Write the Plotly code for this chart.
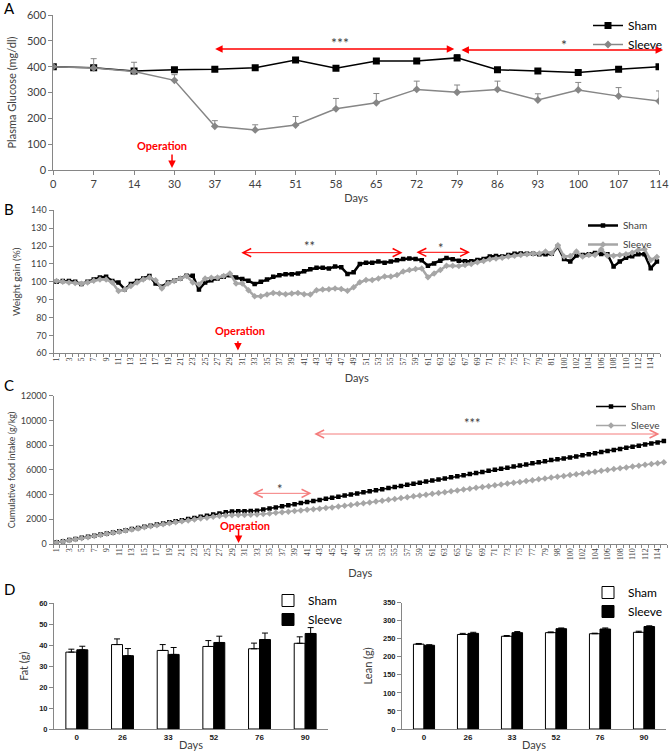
import plotly.graph_objects as go

# ---------------- data ----------------
days_A = ['0', '7', '14', '30', '37', '44', '51', '58', '65', '72', '79', '86', '93', '100', '107', '114']
glucose_sham = [400, 396, 383, 388, 390, 396, 426, 394, 422, 422, 434, 388, 383, 377, 390, 400]
glucose_sham_err = [5, 6, 5, 8, 7, 5, 9, 6, 8, 6, 12, 5, 7, 8, 6, 7]
glucose_sleeve = [400, 395, 381, 347, 169, 155, 174, 237, 260, 312, 301, 312, 271, 310, 286, 267]
glucose_sleeve_err = [3, 36, 36, 22, 22, 20, 33, 40, 36, 32, 28, 32, 24, 29, 33, 39]

days_B = [str(d) for d in range(1, 82)] + ['99'] + [str(d) for d in range(100, 116)]
weight_sham = [100, 100.4, 100.4, 100, 98.7, 100, 101.3, 102.4, 102.8, 100.4,
               99.6, 95.9, 98.7, 100.4, 101.9, 103.2, 99.1, 97.2, 99.6, 100.6,
               101.9, 103.4, 103.4, 95.7, 99.6, 100.9, 101.9, 102.8, 103.7, 102.4,
               101.5, 100.6, 98.7, 100, 101.3, 102.8, 103.7, 104.2, 104.2, 104.6,
               105.9, 107, 107.9, 107.9, 107.4, 108.5, 108.1, 104.4, 105.3, 110,
               110.7, 110.7, 111.3, 110.7, 111.3, 112, 112.8, 113.1, 112.8, 112,
               109, 110.3, 111.8, 113.3, 112.6, 111.8, 111.5, 111.5, 112.2, 112.8,
               114.1, 114.4, 114.1, 115, 115.7, 115.9, 115.7, 115.7, 115.4, 115.4, 115.7,
               119.7, 112.8, 111.3, 114.7, 115, 115.4, 116.1, 115.6, 115.4, 108.5,
               111.3, 113.5, 114.3, 115.4, 115.4, 107.6, 111.3]
weight_sleeve = [100.4, 100, 99.6, 99.3, 98.9, 99.6, 100.6, 101.3, 101.3, 99.6,
                 94.8, 95.7, 97.6, 99.6, 101.3, 102.4, 100.9, 96.3, 99.1, 100.4,
                 101.9, 103.2, 99.6, 98.5, 101.9, 102.2, 102.4, 103.2, 104.7, 99.1,
                 99.1, 95.3, 91.9, 91.9, 92.9, 93.8, 93.4, 93.1, 93.4, 93.8,
                 93.1, 92.9, 95.3, 95.7, 95.8, 96.3, 96, 95, 96.9, 99.7,
                 101, 101, 101.9, 102.9, 102.9, 103.8, 105.7, 106.6, 107.2, 107.5,
                 102.5, 104.7, 106.6, 109, 109, 108.8, 109.4, 110, 110.9, 111.6,
                 112.6, 113.1, 113.5, 114.1, 114.6, 115, 115.4, 115.7, 115.9, 116.9, 115.9,
                 120.5, 114.1, 114.4, 116.9, 114.1, 115, 115, 118.2, 114.6, 114.6,
                 115, 115.4, 116.3, 117.8, 118.2, 112.2, 113.9]

days_C = [str(d) for d in range(1, 81)] + ['98', '99'] + [str(d) for d in range(100, 116)]
food_sham = [135, 228, 320, 412, 500, 585, 672, 760, 850, 940, 1030, 1120, 1212, 1300,
             1390, 1480, 1570, 1660, 1750, 1840, 1930, 2020, 2108, 2195, 2285, 2380, 2470, 2560,
             2630, 2645, 2655, 2668, 2700,
             2787, 2874, 2960, 3048, 3135, 3222, 3310, 3396, 3483, 3570,
             3657, 3745, 3832, 3918, 4005, 4092, 4180, 4266, 4353, 4440,
             4527, 4615, 4702, 4788, 4875, 4962, 5050, 5136, 5223, 5310,
             5397, 5485, 5572, 5658, 5745, 5832, 5920, 6006, 6093, 6180,
             6267, 6355, 6442, 6528, 6615, 6702, 6790, 6850, 6920, 7000,
             7087, 7175, 7262, 7348, 7435, 7522, 7610, 7696, 7783, 7870,
             7957, 8045, 8132, 8218, 8330]
food_sleeve = [120, 205, 296, 380, 470, 556, 648, 732, 822, 910, 998, 1085, 1178, 1262,
               1350, 1430, 1515, 1592, 1676, 1755, 1836, 1908, 1985, 2056, 2134, 2205, 2262, 2310,
               2335, 2345, 2352, 2362, 2380,
               2426, 2475, 2522, 2572, 2618, 2668, 2715, 2763, 2812, 2858, 2908, 2956,
               3025, 3092, 3165, 3230, 3302, 3368, 3441, 3506, 3578, 3645,
               3716, 3782, 3855, 3920, 3992, 4058, 4130, 4196, 4268, 4335,
               4406, 4472, 4545, 4610, 4682, 4748, 4820, 4886, 4958, 5025,
               5096, 5162, 5235, 5300, 5372, 5438, 5510, 5576, 5648, 5714,
               5786, 5852, 5925, 5990, 6062, 6128, 6200, 6266, 6338, 6404,
               6476, 6542, 6610]

days_D = ['0', '26', '33', '52', '76', '90']
fat_sham = [36.7, 40.3, 37.5, 39.4, 38.3, 40.9]
fat_sham_err = [1.4, 2.7, 2.8, 2.8, 2.7, 3.1]
fat_sleeve = [37.8, 35.0, 35.6, 41.3, 42.7, 45.6]
fat_sleeve_err = [1.7, 3.4, 3.3, 3.0, 3.1, 2.8]
lean_sham = [235, 262, 257, 267, 264, 268]
lean_sham_err = [2, 3, 2, 2, 1.5, 3]
lean_sleeve = [232, 265, 267, 278, 277, 284]
lean_sleeve_err = [1.5, 3, 3, 2, 3, 2]

# ---------------- style ----------------
W, H = 669, 753
FONT = 'Lato'
TXT = '#404040'
AX = '#868686'
RED = '#ff0000'


def px(x):
    return x / W


def py(y):
    return 1 - y / H


fig = go.Figure()

# Panel A
fig.add_trace(go.Scatter(x=days_A, y=glucose_sham, name='Sham', mode='lines+markers',
                         line=dict(color='black', width=1.5),
                         marker=dict(symbol='square', size=7, color='black'),
                         error_y=dict(type='data', array=glucose_sham_err, symmetric=False,
                                      arrayminus=[0] * len(glucose_sham_err),
                                      color='black', thickness=1, width=3),
                         xaxis='x', yaxis='y', legend='legend'))
fig.add_trace(go.Scatter(x=days_A, y=glucose_sleeve, name='Sleeve', mode='lines+markers',
                         line=dict(color='#868686', width=1.5),
                         marker=dict(symbol='diamond', size=6, color='#868686'),
                         error_y=dict(type='data', array=glucose_sleeve_err, symmetric=False,
                                      arrayminus=[0] * len(glucose_sleeve_err),
                                      color='#868686', thickness=1, width=3),
                         xaxis='x', yaxis='y', legend='legend'))

# Panel B
fig.add_trace(go.Scatter(x=days_B, y=weight_sham, name='Sham', mode='lines+markers',
                         line=dict(color='black', width=2.5),
                         marker=dict(symbol='square', size=4.5, color='black'),
                         xaxis='x2', yaxis='y2', legend='legend2'))
fig.add_trace(go.Scatter(x=days_B, y=weight_sleeve, name='Sleeve', mode='lines+markers',
                         line=dict(color='#a6a6a6', width=2.5),
                         marker=dict(symbol='diamond', size=5, color='#a6a6a6'),
                         xaxis='x2', yaxis='y2', legend='legend2'))

# Panel C
fig.add_trace(go.Scatter(x=days_C, y=food_sham, name='Sham', mode='lines+markers',
                         line=dict(color='black', width=1.5),
                         marker=dict(symbol='square', size=4.5, color='black'),
                         xaxis='x3', yaxis='y3', legend='legend3'))
fig.add_trace(go.Scatter(x=days_C, y=food_sleeve, name='Sleeve', mode='lines+markers',
                         line=dict(color='#a6a6a6', width=1.5),
                         marker=dict(symbol='diamond', size=5, color='#a6a6a6'),
                         xaxis='x3', yaxis='y3', legend='legend3'))

# Panel D
def bar(x, y, err, name, fill, xa, ya, lg):
    return go.Bar(x=x, y=y, name=name, marker=dict(color=fill, line=dict(color='black', width=1)),
                  error_y=dict(type='data', array=err, symmetric=False, arrayminus=[0] * len(err),
                               color='black', thickness=1, width=3),
                  xaxis=xa, yaxis=ya, legend=lg)


fig.add_trace(bar(days_D, fat_sham, fat_sham_err, 'Sham', 'white', 'x4', 'y4', 'legend4'))
fig.add_trace(bar(days_D, fat_sleeve, fat_sleeve_err, 'Sleeve', 'black', 'x4', 'y4', 'legend4'))
fig.add_trace(bar(days_D, lean_sham, lean_sham_err, 'Sham', 'white', 'x5', 'y5', 'legend5'))
fig.add_trace(bar(days_D, lean_sleeve, lean_sleeve_err, 'Sleeve', 'black', 'x5', 'y5', 'legend5'))

base_axis = dict(showline=True, linecolor=AX, linewidth=1, ticks='outside', tickcolor=AX,
                 ticklen=4, showgrid=False, zeroline=False, tickfont=dict(color=TXT, family=FONT))


def axis(**kw):
    d = dict(base_axis)
    d.update(kw)
    return d


tt_B = [d if i % 2 == 0 else '' for i, d in enumerate(days_B)]
tt_C = [d if i % 2 == 0 else '' for i, d in enumerate(days_C)]
serif = dict(color=TXT, family='Liberation Serif', size=8)

fig.update_layout(
    width=W, height=H, margin=dict(l=0, r=0, t=0, b=0, autoexpand=False),
    paper_bgcolor='white', plot_bgcolor='white', showlegend=True,
    font=dict(family=FONT, color=TXT),
    barmode='group', bargap=0.52, bargroupgap=0,
    # A
    xaxis=axis(domain=[px(53.3), px(659)], anchor='y', type='category', range=[0, 15],
               tickfont=dict(size=11, color=TXT, family=FONT),
               title=dict(text='Days', font=dict(size=11, color=TXT), standoff=5)),
    yaxis=axis(domain=[py(170), py(15)], anchor='x', range=[0, 600], dtick=100,
               tickfont=dict(size=11, color=TXT, family=FONT),
               title=dict(text='Plasma Glucose (mg/dl)', font=dict(size=11, color=TXT), standoff=8)),
    # B
    xaxis2=axis(domain=[px(53.5), px(660)], anchor='y2', type='category', range=[-0.5, 97.5],
                tickmode='array', tickvals=days_B, ticktext=tt_B, tickson='boundaries',
                tickangle=-90, tickfont=serif, ticklen=3,
                title=dict(text='Days', font=dict(size=11, color=TXT), standoff=5)),
    yaxis2=axis(domain=[py(353.3), py(210.3)], anchor='x2', range=[60, 140], dtick=10,
                tickfont=dict(size=9, color=TXT, family=FONT),
                title=dict(text='Weight gain (%)', font=dict(size=10, color=TXT), standoff=8)),
    # C
    xaxis3=axis(domain=[px(53.6), px(667)], anchor='y3', type='category', range=[-0.5, 97.5],
                tickmode='array', tickvals=days_C, ticktext=tt_C, tickson='boundaries',
                tickangle=-90, tickfont=serif, ticklen=3,
                title=dict(text='Days', font=dict(size=11, color=TXT), standoff=10)),
    yaxis3=axis(domain=[py(544), py(395.7)], anchor='x3', range=[0, 12000], dtick=2000,
                tickformat='d',
                tickfont=dict(size=9, color=TXT, family=FONT),
                title=dict(text='Cumulative food intake (g/kg)', font=dict(size=9, color=TXT), standoff=3)),
    # D left
    xaxis4=axis(domain=[px(54), px(328)], anchor='y4', type='category', ticks='',
                tickfont=dict(size=8, color='#202020', family='Liberation Sans', weight='bold'),
                title=dict(text='Days', font=dict(size=11, color=TXT), standoff=0)),
    yaxis4=axis(domain=[py(729), py(603.3)], anchor='x4', range=[0, 60], dtick=10,
                tickfont=dict(size=7.5, color='#202020', family='Liberation Sans', weight='bold'),
                title=dict(text='Fat (g)', font=dict(size=11, color=TXT), standoff=8)),
    # D right
    xaxis5=axis(domain=[px(402), px(666)], anchor='y5', type='category', ticks='',
                tickfont=dict(size=8, color='#202020', family='Liberation Sans', weight='bold'),
                title=dict(text='Days', font=dict(size=11, color=TXT), standoff=0)),
    yaxis5=axis(domain=[py(729), py(602.7)], anchor='x5', range=[0, 350], dtick=50,
                tickfont=dict(size=7.5, color='#202020', family='Liberation Sans', weight='bold'),
                title=dict(text='Lean (g)', font=dict(size=11, color=TXT), standoff=8)),
    legend=dict(x=px(588), y=py(11), xanchor='left', yanchor='top', bgcolor='rgba(0,0,0,0)',
                font=dict(size=12, color='black')),
    legend2=dict(x=px(583), y=py(211), xanchor='left', yanchor='top', bgcolor='rgba(0,0,0,0)',
                 font=dict(size=10, color=TXT)),
    legend3=dict(x=px(591), y=py(392), xanchor='left', yanchor='top', bgcolor='rgba(0,0,0,0)',
                 font=dict(size=10, color=TXT)),
    legend4=dict(x=px(268), y=py(586), xanchor='left', yanchor='top', bgcolor='rgba(0,0,0,0)',
                 font=dict(size=12, color='black')),
    legend5=dict(x=px(588), y=py(578), xanchor='left', yanchor='top', bgcolor='rgba(0,0,0,0)',
                 font=dict(size=12, color='black')),
)

ann = []


def darrow(xr, yr, x0, x1, y, color, head, width, size):
    ann.append(dict(xref=xr, yref=yr, axref=xr, ayref=yr, x=x1, y=y, ax=x0, ay=y, text='',
                    showarrow=True, arrowside='end+start', arrowhead=head, startarrowhead=head,
                    arrowsize=size, startarrowsize=size, arrowwidth=width, arrowcolor=color))


def text(xr, yr, x, y, t, size, color=TXT, bold=False):
    ann.append(dict(xref=xr, yref=yr, x=x, y=y, text=('<b>%s</b>' % t) if bold else t,
                    showarrow=False, font=dict(size=size, color=color), xanchor='center',
                    yanchor='middle'))


def down_arrow(xr, yr, x, y0, y1):
    ann.append(dict(xref=xr, yref=yr, axref=xr, ayref=yr, x=x, y=y1, ax=x, ay=y0, text='',
                    showarrow=True, arrowhead=2, arrowsize=1, arrowwidth=1.5, arrowcolor=RED))


# A annotations
darrow('x', 'y', 3.97, 9.93, 468, RED, 2, 1.5, 1)
darrow('x', 'y', 10.07, 15.1, 465, RED, 2, 1.5, 1)
text('x', 'y', 7.1, 495, '***', 14)
text('x', 'y', 12.65, 485, '*', 14)
text('x', 'y', 2.7, 96, 'Operation', 11, RED, True)
down_arrow('x', 'y', 2.94, 66, 8)

# B annotations
darrow('x2', 'y2', 29.6, 55.9, 116.3, RED, 5, 1, 1.6)
darrow('x2', 'y2', 57.9, 66.8, 116.5, RED, 5, 1, 1.6)
text('x2', 'y2', 40.9, 119.9, '**', 13)
text('x2', 'y2', 62.1, 119.1, '*', 13)
text('x2', 'y2', 29.6, 72.5, 'Operation', 11, RED, True)
down_arrow('x2', 'y2', 29.3, 67.6, 61.6)

# C annotations
PINK = '#f47c7c'
darrow('x3', 'y3', 31.1, 40.7, 4100, PINK, 5, 1, 1.6)
darrow('x3', 'y3', 40.9, 96.3, 8900, PINK, 5, 1, 1.6)
text('x3', 'y3', 35.6, 4450, '*', 13)
text('x3', 'y3', 66.4, 9765, '***', 13)
text('x3', 'y3', 30.1, 1513, 'Operation', 11, RED, True)
down_arrow('x3', 'y3', 29.05, 1294, 90)

# Panel letters
for letter, yy in [('A', 8), ('B', 209), ('C', 385), ('D', 589)]:
    ann.append(dict(xref='paper', yref='paper', x=px(9), y=py(yy), text=letter, showarrow=False,
                    font=dict(size=15, color='black'), xanchor='center', yanchor='middle'))

fig.update_layout(annotations=ann)
fig.write_html('out.html')
